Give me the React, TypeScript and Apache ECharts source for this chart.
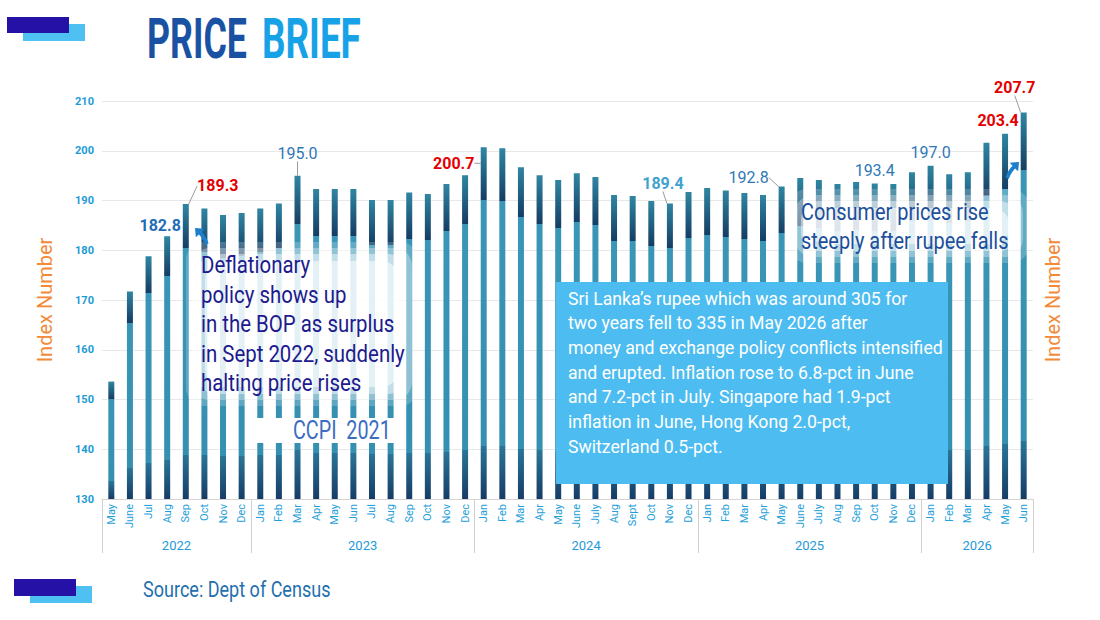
import React, { useEffect, useRef } from "react";
import * as echarts from "echarts";

// Monthly CCPI (2021 = 100) from May 2022 to June 2026
const months = [
  "May", "June", "Jul", "Aug", "Sep", "Oct", "Nov", "Dec",
  "Jan", "Feb", "Mar", "Apr", "May", "Jun", "Jul", "Aug", "Sep", "Oct", "Nov", "Dec",
  "Jan", "Feb", "Mar", "Apr", "May", "June", "July", "Aug", "Sept", "Oct", "Nov", "Dec",
  "Jan", "Feb", "Mar", "Apr", "May", "June", "July", "Aug", "Sep", "Oct", "Nov", "Dec",
  "Jan", "Feb", "Mar", "Apr", "May", "Jun",
];

const years = [
  "2022", "2022", "2022", "2022", "2022", "2022", "2022", "2022",
  "2023", "2023", "2023", "2023", "2023", "2023", "2023", "2023", "2023", "2023", "2023", "2023",
  "2024", "2024", "2024", "2024", "2024", "2024", "2024", "2024", "2024", "2024", "2024", "2024",
  "2025", "2025", "2025", "2025", "2025", "2025", "2025", "2025", "2025", "2025", "2025", "2025",
  "2026", "2026", "2026", "2026", "2026", "2026",
];

const ccpi = [
  153.6, 171.7, 178.8, 182.8, 189.3, 188.4, 187.1, 187.5,
  188.4, 189.4, 195.0, 192.3, 192.3, 192.3, 190.1, 190.1, 191.6, 191.3, 193.3, 195.1,
  200.7, 200.5, 196.7, 195.1, 194.1, 195.5, 194.7, 191.1, 190.9, 189.9, 189.4, 191.7,
  192.5, 192.0, 191.5, 191.1, 192.8, 194.5, 194.1, 193.3, 193.7, 193.4, 193.3, 195.7,
  197.0, 195.3, 195.7, 201.6, 203.4, 207.7,
];

const yTicks = { min: 130, max: 210, step: 10 };

const infoLines = [
  "Sri Lanka\u2019s rupee which was around 305 for",
  "two years fell to 335 in May 2026 after",
  "money and exchange policy conflicts intensified",
  "and erupted. Inflation rose to 6.8-pct in June",
  "and 7.2-pct in July. Singapore had 1.9-pct",
  "inflation in June, Hong Kong 2.0-pct,",
  "Switzerland 0.5-pct.",
];

const deflationLines = [
  "Deflationary",
  "policy shows up",
  "in the BOP as surplus",
  "in Sept 2022, suddenly",
  "halting price rises",
];

const risingLines = ["Consumer prices rise", "steeply after rupee falls"];

const FONT = "Roboto, 'Open Sans', sans-serif";
const RED = "#e30000";
const DEEP = "#1f6db5";
const MID = "#2f78b6";
const SKY = "#3fa2cf";

// Styling of the value call-outs, keyed by month index
const callouts: Record<number, { color: string; bold: boolean; dx: number; dy: number; line: boolean }> = {
  3: { color: DEEP, bold: true, dx: -7, dy: 2, line: false },
  4: { color: RED, bold: true, dx: 32, dy: -5, line: true },
  10: { color: MID, bold: false, dx: 0, dy: -9, line: true },
  20: { color: RED, bold: true, dx: -30, dy: 29, line: true },
  30: { color: SKY, bold: true, dx: -7, dy: -7, line: true },
  36: { color: MID, bold: false, dx: -33, dy: 4, line: true },
  41: { color: MID, bold: false, dx: 0, dy: 0, line: false },
  44: { color: MID, bold: false, dx: 0, dy: 0, line: false },
  48: { color: RED, bold: true, dx: -7, dy: 0, line: false },
  49: { color: RED, bold: true, dx: -9, dy: -12, line: true },
};

const yearStart = years.map((y, i) => i === 0 || years[i - 1] !== y);
const yearMid = years.map((y, i) => {
  let s = i;
  while (s > 0 && years[s - 1] === y) s--;
  let e = i;
  while (e < years.length - 1 && years[e + 1] === y) e++;
  return i === s + (e - s + 1) / 2 - 1;
});

const barGradient = {
  type: "linear",
  x: 0,
  y: 0,
  x2: 0,
  y2: 1,
  colorStops: [
    { offset: 0, color: "#2f86a2" },
    { offset: 0.15, color: "#153d63" },
    { offset: 0.15, color: "#3a96b6" },
    { offset: 0.85, color: "#358fb0" },
    { offset: 0.85, color: "#2a7596" },
    { offset: 1, color: "#163c66" },
  ],
};

// curved arrow, pointing up-left, in a 20x20 box
const ARROW_D =
  "M0 0 L11 1 L7.5 4.5 C11 8 14 12 16 18 L12 20 C10 14 7 10 4.5 7.5 L1 11 Z";

let shapeRegistered = false;
function registerShapes() {
  if (shapeRegistered) return;
  echarts.graphic.registerShape("pbArrow", echarts.graphic.extendPath(ARROW_D, {}) as any);
  shapeRegistered = true;
}

function textBlock(lines: string[], x: number, top: number, lh: number, size: number, fill: string, sx: number) {
  return lines.map((t, i) => ({
    type: "text",
    x,
    y: top + lh * i + lh / 2,
    scaleX: sx,
    z: 120,
    style: {
      text: t,
      fill,
      font: `${size}px ${FONT}`,
      textAlign: "left",
      textVerticalAlign: "middle",
    },
  }));
}

// soft white veil: stacked translucent rounded rects, smaller ones on top
function haze(x: number, y: number, w: number, h: number) {
  const layers = [
    { pad: 14, a: 0.2 },
    { pad: 8, a: 0.3 },
    { pad: 2, a: 0.45 },
    { pad: -5, a: 0.55 },
  ];
  return layers.map((l, i) => ({
    type: "rect",
    z: 110 + i,
    shape: { x: x - l.pad, y: y - l.pad, width: w + 2 * l.pad, height: h + 2 * l.pad, r: 18 },
    style: { fill: `rgba(255,255,255,${l.a})` },
  }));
}

export default function App() {
  const ref = useRef<HTMLDivElement>(null);

  useEffect(() => {
    if (!ref.current) return;
    registerShapes();
    const chart = echarts.init(ref.current, undefined, { renderer: "svg" });

    const data = ccpi.map((v, i) => {
      const c = callouts[i];
      if (!c) return v;
      return {
        value: v,
        label: {
          show: true,
          position: "top",
          distance: 5,
          color: c.color,
          fontWeight: c.bold ? "bold" : "normal",
          fontSize: 16,
          fontFamily: FONT,
          formatter: (p: any) => Number(p.value).toFixed(1),
        },
        labelLine: { show: c.line, lineStyle: { color: "#9c9c9c", width: 1 } },
      };
    });

    const option: any = {
      animation: false,
      backgroundColor: "#ffffff",
      grid: { left: 102, right: 67, top: 101, bottom: 121, containLabel: false },
      xAxis: [
        {
          type: "category",
          data: months,
          axisLine: { lineStyle: { color: "#d4d4d4" } },
          axisTick: { show: false },
          axisLabel: {
            interval: 0,
            rotate: 90,
            margin: 5,
            color: "#1ea0da",
            fontSize: 11,
            fontFamily: FONT,
          },
        },
        {
          type: "category",
          data: years,
          position: "bottom",
          axisLine: { show: false },
          axisTick: {
            show: true,
            length: 54,
            interval: (i: number) => yearStart[i],
            lineStyle: { color: "#d0d0d0" },
          },
          axisLabel: {
            interval: (i: number) => yearMid[i],
            margin: 40,
            padding: [0, 0, 0, 18.6],
            color: "#1f9ad6",
            fontSize: 13,
            fontFamily: FONT,
          },
          splitLine: { show: false },
        },
      ],
      yAxis: [
        {
          type: "value",
          min: yTicks.min,
          max: yTicks.max,
          interval: yTicks.step,
          position: "left",
          name: "Index Number",
          nameLocation: "middle",
          nameRotate: 90,
          nameGap: 47,
          nameTextStyle: { color: "#f28a3a", fontSize: 20, fontFamily: FONT },
          axisLine: { show: false },
          axisTick: { show: false },
          axisLabel: { color: "#1d9ad6", fontSize: 11, fontWeight: "bold", margin: 8, fontFamily: FONT },
          splitLine: { lineStyle: { color: "#e8e8e8" } },
        },
        {
          type: "value",
          min: yTicks.min,
          max: yTicks.max,
          interval: yTicks.step,
          position: "right",
          name: "Index Number",
          nameLocation: "middle",
          nameRotate: 90,
          nameGap: 10,
          nameTextStyle: { color: "#f28a3a", fontSize: 20, fontFamily: FONT },
          axisLine: { show: false },
          axisTick: { show: false },
          axisLabel: { show: false },
          splitLine: { show: false },
        },
      ],
      series: [
        {
          type: "bar",
          name: "CCPI",
          data,
          barWidth: 6,
          itemStyle: { color: barGradient },
          label: { show: false },
          labelLayout: (p: any) => {
            const c = callouts[p.dataIndex];
            return c ? { dx: c.dx, dy: c.dy } : {};
          },
          z: 2,
        },
      ],
      graphic: [
        // brand marks
        { type: "rect", shape: { x: 23, y: 24, width: 62, height: 17 }, style: { fill: "#4fc0f2" }, z: 100 },
        { type: "rect", shape: { x: 7, y: 17, width: 62, height: 16 }, style: { fill: "#2611a6" }, z: 101 },
        { type: "rect", shape: { x: 30, y: 586, width: 62, height: 17 }, style: { fill: "#4fc0f2" }, z: 100 },
        { type: "rect", shape: { x: 14, y: 579, width: 62, height: 17 }, style: { fill: "#2611a6" }, z: 101 },
        // title
        {
          type: "text", x: 147, y: 39, scaleX: 0.65, z: 120,
          style: { text: "PRICE", fill: "#1a52a3", font: `bold 55px ${FONT}`, textAlign: "left", textVerticalAlign: "middle" },
        },
        {
          type: "text", x: 262, y: 39, scaleX: 0.67, z: 120,
          style: { text: "BRIEF", fill: "#17a2e8", font: `bold 55px ${FONT}`, textAlign: "left", textVerticalAlign: "middle" },
        },
        // source
        {
          type: "text", x: 143, y: 589, scaleX: 0.82, z: 120,
          style: { text: "Source: Dept of Census", fill: "#1f6fae", font: `22px ${FONT}`, textAlign: "left", textVerticalAlign: "middle" },
        },
        // veils behind the annotations
        ...haze(200, 256, 204, 136),
        ...haze(803, 203, 212, 46),
        { type: "rect", shape: { x: 257, y: 418, width: 138, height: 25 }, z: 115, style: { fill: "#ffffff" } },
        ...textBlock(deflationLines, 201, 250, 29.5, 24, "#201a8e", 0.85),
        ...textBlock(risingLines, 801, 197.5, 29, 24, "#1c4f9c", 0.83),
        {
          type: "text", x: 293, y: 431, scaleX: 0.76, z: 120,
          style: { text: "CCPI  2021", fill: "#3c6cc0", font: `26px ${FONT}`, textAlign: "left", textVerticalAlign: "middle" },
        },
        // info box
        { type: "rect", shape: { x: 556, y: 282, width: 392, height: 202 }, z: 116, style: { fill: "#4dbcf0" } },
        ...textBlock(infoLines, 568, 285.5, 24.7, 19, "#ffffff", 0.93),
        // arrows
        { type: "pbArrow", x: 195, y: 228, scaleX: 0.85, scaleY: 0.85, z: 120, style: { fill: "#1b7fcb" } },
        { type: "pbArrow", x: 1019, y: 162, scaleX: -0.85, scaleY: 0.85, z: 120, style: { fill: "#1b7fcb" } },
      ],
    };

    chart.setOption(option);
    return () => chart.dispose();
  }, []);

  return (
    <div
      ref={ref}
      style={{ position: "fixed", left: 0, top: 0, width: 1100, height: 620, background: "#fff" }}
    />
  );
}
